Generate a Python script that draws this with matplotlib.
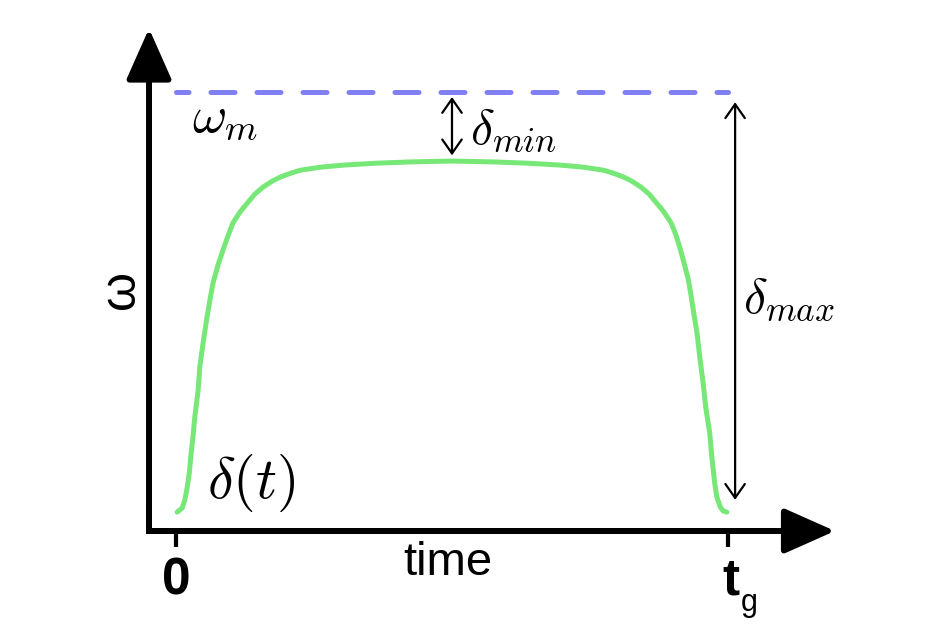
import numpy as np
import matplotlib
matplotlib.use("Agg")
import matplotlib.pyplot as plt

plt.rcParams['mathtext.fontset'] = 'cm'

# curve (time in units of t_g, height in units of omega_m)
t_rise = [0.002, 0.005, 0.011, 0.016, 0.020, 0.024, 0.027, 0.031, 0.034, 0.040,
          0.043, 0.049, 0.056, 0.062, 0.067, 0.076, 0.085, 0.094, 0.103, 0.116,
          0.129, 0.143, 0.158, 0.174, 0.188, 0.207, 0.225, 0.261, 0.306, 0.361,
          0.424, 0.500]
d_rise = [0.043, 0.046, 0.052, 0.071, 0.098, 0.132, 0.173, 0.219, 0.260, 0.321,
          0.374, 0.428, 0.487, 0.531, 0.565, 0.606, 0.640, 0.672, 0.702, 0.727,
          0.747, 0.768, 0.784, 0.797, 0.806, 0.815, 0.822, 0.829, 0.834, 0.838,
          0.841, 0.843]
t_fall = [0.576, 0.639, 0.694, 0.739, 0.775, 0.793, 0.812, 0.826, 0.842, 0.857,
          0.871, 0.884, 0.897, 0.906, 0.913, 0.920, 0.928, 0.933, 0.938, 0.944,
          0.949, 0.955, 0.960, 0.967, 0.971, 0.976, 0.980, 0.986, 0.991, 0.998]
d_fall = [0.841, 0.838, 0.834, 0.829, 0.822, 0.815, 0.806, 0.797, 0.784, 0.768,
          0.747, 0.727, 0.702, 0.674, 0.645, 0.613, 0.574, 0.538, 0.497, 0.451,
          0.396, 0.337, 0.280, 0.223, 0.166, 0.109, 0.077, 0.055, 0.046, 0.043]
omega_m = 1.0
t_g = 1.0
x_ticks = [0.0, t_g]

t_vals = t_rise + t_fall
delta_vals = d_rise + d_fall

fig = plt.figure(figsize=(9.36, 6.35), dpi=100)
ax = fig.add_axes([0, 0, 1, 1])
ax.set_xlim(-0.319, 1.377)
ax.set_ylim(-0.237, 1.210)
ax.axis('off')

# axes with arrow heads
x0 = -0.049
axis_lw = 4.3
head = '-|>,head_length=0.45,head_width=0.2'
ax.annotate('', xy=(x0, 1.145), xytext=(x0, 0),
            arrowprops=dict(arrowstyle=head, mutation_scale=70, lw=axis_lw,
                            color='black', shrinkA=0, shrinkB=0))
ax.annotate('', xy=(1.194, 0), xytext=(x0, 0),
            arrowprops=dict(arrowstyle=head, mutation_scale=70, lw=axis_lw,
                            color='black', shrinkA=0, shrinkB=0))
ax.plot([x0, x0, x0 + 0.05], [0.05, 0, 0], color='black', lw=axis_lw,
        solid_joinstyle='miter', solid_capstyle='projecting')

# ticks
for xt in x_ticks:
    ax.plot([xt, xt], [0, -0.036], color='black', lw=3.0, solid_capstyle='butt')

# omega_m dashed line
ax.plot([0, t_g], [omega_m, omega_m], color='#8080f2', lw=3.6,
        linestyle=(2.3, (4.8, 4.4)), dash_capstyle='round')

# pulse
ax.plot(t_vals, delta_vals, color='#77e777', lw=3.6, solid_capstyle='round',
        solid_joinstyle='round')

# delta_min and delta_max arrows
arr = dict(arrowstyle='<->,head_length=0.5,head_width=0.35', mutation_scale=20,
           lw=1.6, color='black', shrinkA=0, shrinkB=0)
ax.annotate('', xy=(0.5, 0.989), xytext=(0.5, 0.856), arrowprops=arr)
ax.annotate('', xy=(1.013, 0.977), xytext=(1.013, 0.071), arrowprops=arr)

# labels
ax.text(0.029, 0.909, r'$\omega_m$', fontsize=38, ha='left', va='baseline')
ax.text(0.533, 0.884, r'$\delta_{min}$', fontsize=36, ha='left', va='baseline')
ax.text(1.027, 0.499, r'$\delta_{max}$', fontsize=36, ha='left', va='baseline')
ax.text(0.056, 0.075, r'$\delta(t)$', fontsize=42, ha='left', va='baseline')

ax.text(-0.10, 0.55, 'ω', fontsize=36, family='Liberation Sans', rotation=90,
        ha='center', va='center')
ax.text(0.493, -0.073, 'time', fontsize=34, family='Liberation Sans',
        ha='center', va='center')
ax.text(0.0, -0.059, '0', fontsize=37, family='Liberation Sans', weight='bold',
        ha='center', va='top')
ax.text(1.005, -0.059, 't', fontsize=37, family='Liberation Sans', weight='bold',
        ha='center', va='top')
ax.text(1.024, -0.182, 'g', fontsize=22, family='Liberation Sans',
        ha='left', va='baseline')

fig.savefig('out.png', dpi=100)
